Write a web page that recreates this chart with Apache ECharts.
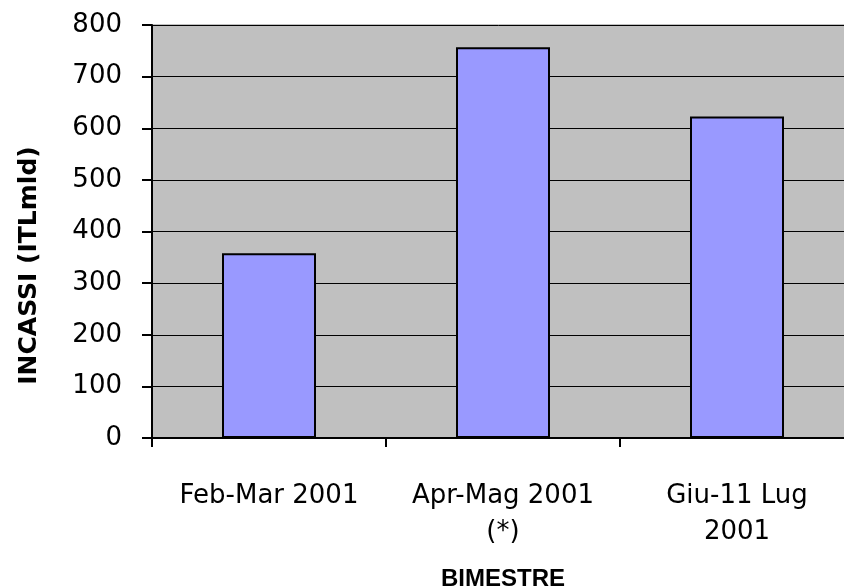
<!DOCTYPE html>
<html><head><meta charset="utf-8">
<script src="https://cdn.jsdelivr.net/npm/echarts@6/dist/echarts.min.js"></script>
<style>html,body{margin:0;padding:0;background:#fff}#c{width:844px;height:588px}</style>
</head><body><div id="c"></div>
<script>
var categories = ["Feb-Mar 2001", "Apr-Mag 2001\n(*)", "Giu-11 Lug\n2001"];
var incassi = [358, 757, 623];
var yTicks = [0, 100, 200, 300, 400, 500, 600, 700, 800];

var FONT = 'DejaVu Sans';
var chart = echarts.init(document.getElementById('c'));
chart.setOption({
  animation: false,
  backgroundColor: '#ffffff',
  textStyle: {fontFamily: FONT},
  grid: {left: 152, top: 25, width: 702, height: 413, containLabel: false, outerBoundsMode: 'none',
         show: true, backgroundColor: '#C0C0C0', borderColor: '#808080', borderWidth: 1},
  xAxis: {
    type: 'category', data: categories,
    name: 'BIMESTRE', nameLocation: 'middle', nameGap: 129,
    nameTextStyle: {fontSize: 24, fontWeight: 'bold', color: '#000', fontFamily: 'Liberation Sans'},
    axisLine: {lineStyle: {color: '#000', width: 2}},
    axisTick: {show: true, length: 9, lineStyle: {color: '#000', width: 2}},
    axisLabel: {fontSize: 26, color: '#000', margin: 40, lineHeight: 36, fontFamily: FONT, interval: 0}
  },
  yAxis: {
    type: 'value', min: yTicks[0], max: yTicks[yTicks.length - 1], interval: 100,
    name: 'INCASSI (ITLmld)', nameLocation: 'middle', nameGap: 110,
    nameTextStyle: {fontSize: 25, fontWeight: 'bold', color: '#000', fontFamily: FONT, padding: [0, 68, 0, 0]},
    axisLine: {show: true, lineStyle: {color: '#000', width: 2}},
    axisTick: {show: true, length: 10, lineStyle: {color: '#000', width: 2}},
    axisLabel: {fontSize: 26, color: '#000', margin: 30, fontFamily: FONT},
    splitLine: {show: true, lineStyle: {color: '#000', width: 1}}
  },
  series: [{
    type: 'bar', data: incassi, barWidth: 94,
    itemStyle: {color: '#9999FF', borderColor: '#000', borderWidth: 2}
  }]
});
</script></body></html>
